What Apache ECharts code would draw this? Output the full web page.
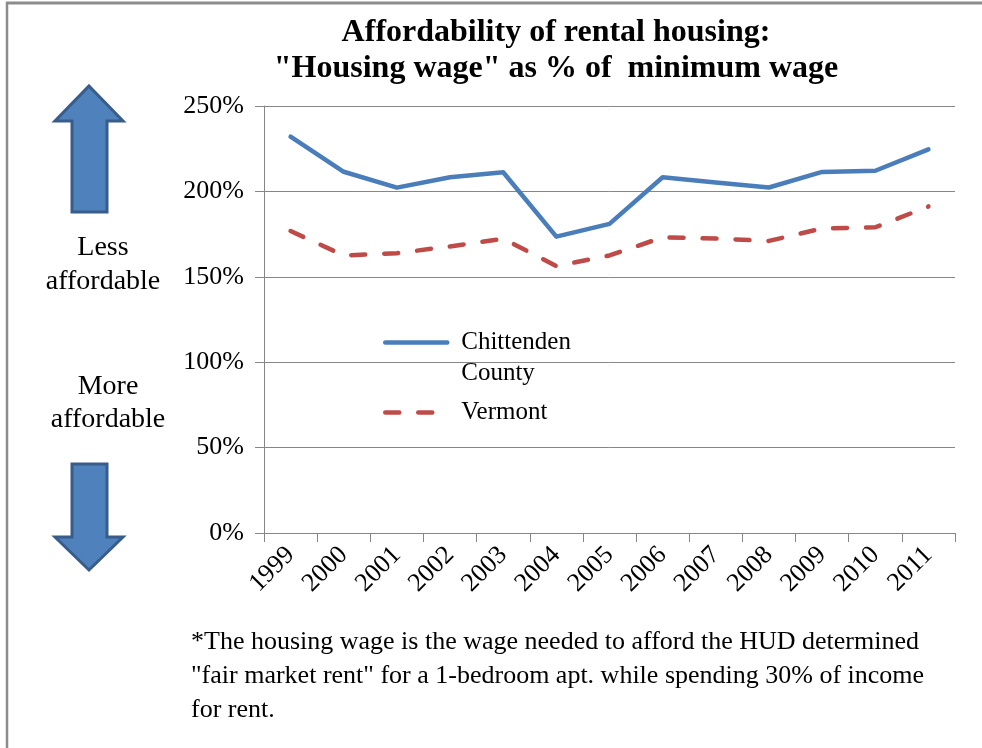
<!DOCTYPE html>
<html>
<head>
<meta charset="utf-8">
<script src="https://cdn.jsdelivr.net/npm/echarts@6/dist/echarts.min.js"></script>
<style>
html,body{margin:0;padding:0;background:#fff;}
#main{width:982px;height:748px;}
</style>
</head>
<body>
<div id="main"></div>
<script>
const years = ['1999','2000','2001','2002','2003','2004','2005','2006','2007','2008','2009','2010','2011'];
const chittenden = [232, 211.5, 202.2, 208.3, 211.2, 173.5, 181, 208.3, 205.2, 202.3, 211.4, 212.1, 224.6];
const vermont = [176.8, 162.5, 163.8, 167.8, 172.3, 156.3, 162.5, 173.1, 172.4, 171, 178.3, 179, 191.2];
const yTicks = {min: 0, max: 250, interval: 50};
const titleLines = ['Affordability of rental housing:', '"Housing wage" as % of  minimum wage'];
const footnote = ['*The housing wage is the wage needed to afford the HUD determined',
                  '"fair market rent" for a 1-bedroom apt. while spending 30% of income',
                  'for rent.'];
const sideLabels = {up: ['Less', 'affordable'], down: ['More', 'affordable']};
const legendLines = {'Chittenden County': ['Chittenden', 'County'], 'Vermont': ['Vermont']};

const FONT = '"Liberation Serif", "DejaVu Serif", serif';
const chart = echarts.init(document.getElementById('main'));

const arrowStyle = {fill: '#4F81BD', stroke: '#385D8A', lineWidth: 3};
const legendBase = {
  orient: 'vertical', left: 383, padding: 0,
  itemWidth: 62, itemHeight: 14,
  itemStyle: {opacity: 0},
  lineStyle: {width: 4.5},
  textStyle: {fontFamily: FONT, fontSize: 25, color: '#000', lineHeight: 31, padding: [0, 0, 0, 9]}
};

chart.setOption({
  backgroundColor: '#fff',
  animation: false,
  title: {
    text: titleLines.join('\n'),
    left: 551, top: 10, textAlign: 'center',
    textStyle: {fontFamily: FONT, fontSize: 32, fontWeight: 'bold', color: '#000', lineHeight: 36}
  },
  grid: {left: 264, right: 27, top: 106, bottom: 215, containLabel: false},
  legend: [
    Object.assign({}, legendBase, {
      data: ['Chittenden County'], top: 296,
      formatter: (n) => '\n' + legendLines[n].join('\n')
    }),
    Object.assign({}, legendBase, {
      data: ['Vermont'], top: 397,
      formatter: (n) => legendLines[n].join('\n')
    })
  ],
  xAxis: {
    type: 'category', data: years, boundaryGap: true,
    axisLine: {lineStyle: {color: '#868686', width: 1}},
    axisTick: {show: true, interval: 0, alignWithLabel: false, length: 9, lineStyle: {color: '#868686'}},
    axisLabel: {interval: 0, rotate: 45, margin: 18, fontFamily: FONT, fontSize: 26, color: '#000'},
    splitLine: {show: false}
  },
  yAxis: {
    type: 'value', min: yTicks.min, max: yTicks.max, interval: yTicks.interval,
    axisLine: {show: true, lineStyle: {color: '#868686', width: 1}},
    axisTick: {show: true, length: 9, lineStyle: {color: '#868686'}},
    axisLabel: {formatter: '{value}%', margin: 20, fontFamily: FONT, fontSize: 26, color: '#000'},
    splitLine: {show: true, lineStyle: {color: '#868686', width: 1}}
  },
  series: [
    {
      name: 'Chittenden County', type: 'line', data: chittenden, symbol: 'none', smooth: false,
      color: '#4A7EBB',
      lineStyle: {color: '#4A7EBB', width: 4.5, cap: 'round', join: 'round'}
    },
    {
      name: 'Vermont', type: 'line', data: vermont, symbol: 'none', smooth: false,
      color: '#BE4B48',
      lineStyle: {color: '#BE4B48', width: 4.5, type: [14, 19], cap: 'round', join: 'round'}
    }
  ],
  graphic: [
    {type: 'line', shape: {x1: 6, y1: 3, x2: 982, y2: 3}, style: {stroke: '#8C8C8C', lineWidth: 3}, silent: true},
    {type: 'line', shape: {x1: 7, y1: 2, x2: 7, y2: 748}, style: {stroke: '#8C8C8C', lineWidth: 2.5}, silent: true},
    {type: 'polygon', shape: {points: [[89,86],[123,121],[107,121],[107,212],[72,212],[72,121],[55,121]]}, style: arrowStyle, silent: true},
    {type: 'polygon', shape: {points: [[72,464],[107,464],[107,537],[123,537],[89,570],[55,537],[72,537]]}, style: arrowStyle, silent: true},
    {type: 'text', style: {text: sideLabels.up.join('\n'), x: 103, y: 231, align: 'center', fontFamily: FONT, fontSize: 28, lineHeight: 34, fill: '#000'}, silent: true},
    {type: 'text', style: {text: sideLabels.down.join('\n'), x: 108, y: 370, align: 'center', fontFamily: FONT, fontSize: 28, lineHeight: 33, fill: '#000'}, silent: true},
    {type: 'text', style: {text: footnote.join('\n'), x: 191, y: 625, align: 'left', fontFamily: FONT, fontSize: 26, lineHeight: 34, fill: '#000'}, silent: true}
  ]
});
</script>
</body>
</html>
